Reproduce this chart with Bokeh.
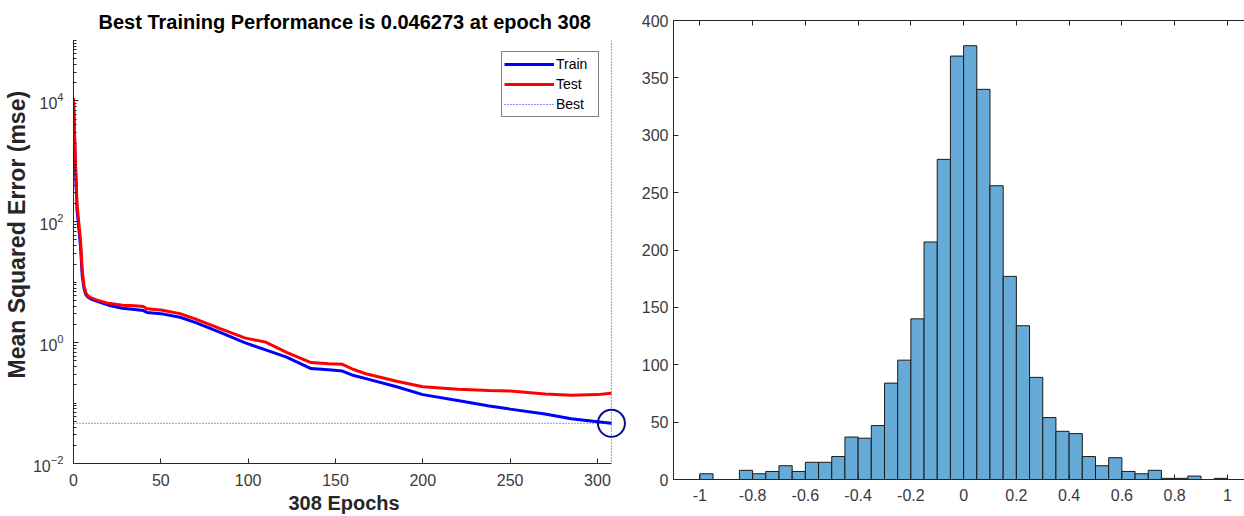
from bokeh.plotting import figure
from bokeh.layouts import row
from bokeh.models import FixedTicker, LinearAxis, Legend, LegendItem, Span, Title
from bokeh.embed import file_html
from bokeh.resources import INLINE

# ---------------- data: training performance ----------------
epochs = [0, 1, 2, 3, 4, 5, 6, 7, 8, 10, 14, 20, 28, 35, 40, 42, 50, 61, 70, 84,
          98, 110, 122, 136, 146, 154, 160, 168, 185, 200, 220, 238, 250, 270, 285, 300, 308]
train_mse = [10000, 1000, 158, 79, 40, 12.6, 7.9, 6.3, 5.75, 5.25, 4.79, 4.17, 3.72, 3.55, 3.39,
             3.16, 3.02, 2.63, 2.14, 1.48, 1.0, 0.759, 0.575, 0.372, 0.355, 0.339, 0.288, 0.251,
             0.186, 0.138, 0.110, 0.0891, 0.0794, 0.0661, 0.0550, 0.0490, 0.046273]
test_mse = [11200, 1260, 200, 100, 50, 15.8, 8.9, 6.76, 6.03, 5.50, 5.01, 4.47, 4.17, 4.07, 3.98,
            3.63, 3.47, 3.02, 2.45, 1.70, 1.20, 1.02, 0.692, 0.468, 0.447, 0.437, 0.363, 0.302,
            0.229, 0.186, 0.170, 0.162, 0.158, 0.141, 0.135, 0.138, 0.145]
best_epoch = 308
best_perf = 0.046273

x_ticks_left = [0, 50, 100, 150, 200, 250, 300]
y_ticks_left = [1e-2, 1e0, 1e2, 1e4]
y_minor_left = [m * 10.0 ** e for e in range(-2, 5) for m in range(1, 10)] + [1e5]

# ---------------- data: error histogram ----------------
bin_left = [-1.00, -0.95, -0.90, -0.85, -0.80, -0.75, -0.70, -0.65, -0.60, -0.55,
            -0.50, -0.45, -0.40, -0.35, -0.30, -0.25, -0.20, -0.15, -0.10, -0.05,
            0.00, 0.05, 0.10, 0.15, 0.20, 0.25, 0.30, 0.35, 0.40, 0.45,
            0.50, 0.55, 0.60, 0.65, 0.70, 0.75, 0.80, 0.85, 0.90, 0.95]
bin_width = 0.05
counts = [5, 0, 0, 8, 5, 7, 12, 7, 15, 15,
          20, 37, 36, 47, 84, 104, 140, 207, 279, 369,
          378, 340, 256, 177, 134, 89, 54, 42, 40, 20,
          12, 19, 7, 5, 8, 1, 1, 3, 0, 1]
x_ticks_right = [-1, -0.8, -0.6, -0.4, -0.2, 0, 0.2, 0.4, 0.6, 0.8, 1]
x_labels_right = ["-1", "-0.8", "-0.6", "-0.4", "-0.2", "0", "0.2", "0.4", "0.6", "0.8", "1"]
y_ticks_right = [0, 50, 100, 150, 200, 250, 300, 350, 400]

FONT = "Liberation Sans"
AX = "#262626"
TXT = "#3a3a3a"
BEST = "#2222FF"
H = 516

# ---------------- left figure ----------------
p1 = figure(width=627, height=H, y_axis_type="log",
            x_range=(0, 317.2), y_range=(1e-2, 1e5),
            output_backend="svg", toolbar_location=None,
            min_border_left=73, min_border_right=0, min_border_top=40, min_border_bottom=53)
p1.frame_align = False
p1.outline_line_color = None
p1.grid.visible = False

p1.title.text = f"Best Training Performance is {best_perf} at epoch {best_epoch}"
p1.title.text_font = FONT
p1.title.text_font_size = "20px"
p1.title.text_font_style = "bold"
p1.title.text_color = "black"
p1.title.align = "left"
p1.title.offset = 25
p1.title.standoff = 16

for ax in (p1.xaxis, p1.yaxis):
    ax.axis_line_color = AX
    ax.major_tick_line_color = AX
    ax.minor_tick_line_color = AX
    ax.major_tick_in = 5
    ax.major_tick_out = 0
    ax.minor_tick_in = 3
    ax.minor_tick_out = 0
    ax.major_label_text_font = FONT
    ax.major_label_text_font_size = "16px"
    ax.major_label_text_color = TXT

p1.xaxis.ticker = FixedTicker(ticks=x_ticks_left)
p1.xaxis.bounds = (0, best_epoch)
p1.xaxis.minor_tick_line_color = None
p1.xaxis.major_label_standoff = 10

p1.yaxis.ticker = FixedTicker(ticks=y_ticks_left, minor_ticks=y_minor_left)
p1.yaxis.major_label_standoff = 10

# axis labels (placed as titles so they can be positioned like the original)
x_label = Title(text=f"{best_epoch} Epochs", text_font=FONT, text_font_size="20px",
                text_font_style="bold", text_color=AX, align="left", offset=215, standoff=2)
p1.add_layout(x_label, "below")
y_label = Title(text="Mean Squared Error  (mse)", text_font=FONT, text_font_size="23px",
                text_font_style="bold", text_color=AX, align="left", offset=85, standoff=0)
p1.add_layout(y_label, "left")

r_train = p1.line(epochs, train_mse, line_color="#0000FF", line_width=3)
r_test = p1.line(epochs, test_mse, line_color="#FF0000", line_width=3)
r_best = p1.line([epochs[0], best_epoch], [best_perf, best_perf], line_color=BEST,
                 line_width=1, line_dash="1 2")
p1.add_layout(Span(location=best_epoch, dimension="height", line_color=BEST,
                   line_width=1, line_dash="1 2"))
p1.scatter([best_epoch], [best_perf], marker="circle", size=27, fill_color=None,
           line_color="#0A0A99", line_width=2)

legend = Legend(items=[LegendItem(label="Train", renderers=[r_train]),
                       LegendItem(label="Test", renderers=[r_test]),
                       LegendItem(label="Best", renderers=[r_best])],
                location=(428, 346), margin=0, padding=2, spacing=0,
                glyph_width=50, glyph_height=20, label_height=20, label_width=40,
                label_standoff=2, label_text_font=FONT, label_text_font_size="14px",
                label_text_color="black", border_line_color="black", border_line_width=1,
                background_fill_color="white", background_fill_alpha=1)
p1.add_layout(legend)

# ---------------- right figure ----------------
p2 = figure(width=617, height=H, x_range=(-1.1, 1.065), y_range=(0, 400),
            output_backend="svg", toolbar_location=None,
            min_border_left=46, min_border_right=0, min_border_top=20, min_border_bottom=37)
p2.frame_align = False
p2.outline_line_color = None
p2.grid.visible = False

p2.quad(left=bin_left, right=[b + bin_width for b in bin_left], bottom=0, top=counts,
        fill_color="#66AAD7", line_color="#1a1a1a", line_width=1)

bottom_axis = p2.below[0]
left_axis = p2.left[0]
top_axis = LinearAxis()
p2.add_layout(top_axis, "above")

for ax in (bottom_axis, left_axis, top_axis):
    ax.axis_line_color = AX
    ax.major_tick_line_color = AX
    ax.minor_tick_line_color = None
    ax.major_tick_in = 5
    ax.major_tick_out = 0
    ax.major_label_text_font = FONT
    ax.major_label_text_font_size = "16px"
    ax.major_label_text_color = TXT

for ax in (bottom_axis, top_axis):
    ax.ticker = FixedTicker(ticks=x_ticks_right)
    ax.major_label_overrides = {t: l for t, l in zip(x_ticks_right, x_labels_right)}
bottom_axis.major_label_standoff = 9
top_axis.major_label_text_font_size = "0px"
top_axis.major_label_text_color = None
top_axis.major_label_standoff = 0
left_axis.ticker = FixedTicker(ticks=y_ticks_right)
left_axis.major_label_standoff = 5

layout = row(p1, p2)
open("out.html", "w").write(file_html(layout, INLINE))
